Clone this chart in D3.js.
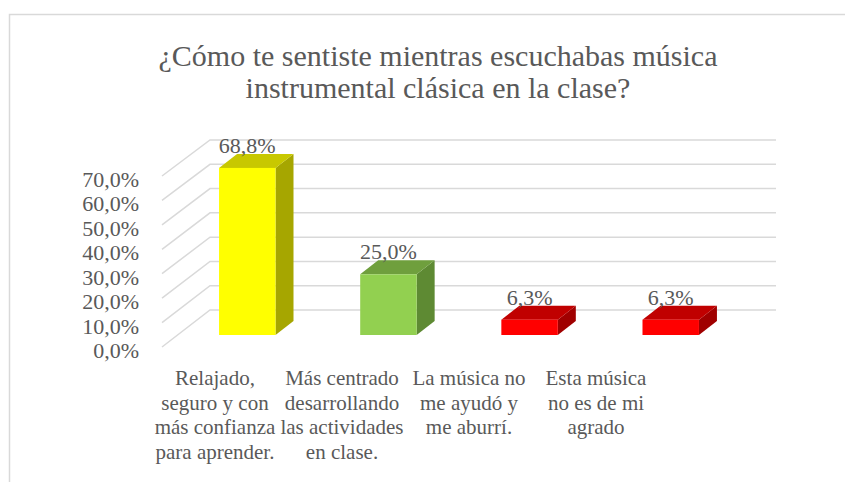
<!DOCTYPE html>
<html>
<head>
<meta charset="utf-8">
<script src="https://cdn.jsdelivr.net/npm/d3@7"></script>
<style>
  body { margin: 0; background: #fff; }
</style>
</head>
<body>
<svg id="chart" width="845" height="482"></svg>
<script>
// data
const categories = ["c1", "c2", "c3", "c4"]
const labelLines = [
  ["Relajado,", "seguro y con", "más confianza", "para aprender."],
  ["Más centrado", "desarrollando", "las actividades", "en clase."],
  ["La música no", "me ayudó y", "me aburrí."],
  ["Esta música", "no es de mi", "agrado"]
]
const values = [68.8, 25.0, 6.3, 6.3]
const valueLabels = ["68,8%", "25,0%", "6,3%", "6,3%"]
const ticks = [0, 10, 20, 30, 40, 50, 60, 70]
const titleLines = ["¿Cómo te sentiste mientras escuchabas música", "instrumental clásica en la clase?"]

// colours per bar: front, top, side
const faceColors = [
  ["#FFFF00", "#C8C800", "#A6A600"],
  ["#92D050", "#6F9F3D", "#5E8A33"],
  ["#FF0000", "#C00000", "#A00000"],
  ["#FF0000", "#C00000", "#A00000"]
]

const FONT = "Liberation Serif"
const TEXT_COLOR = "#595959"

const svg = d3.select("#chart")

// chart border (runs off right / bottom)
svg.append("path")
  .attr("d", "M9.5,482 L9.5,14.5 L845,14.5")
  .attr("fill", "none")
  .attr("stroke", "#D9D9D9")
  .attr("stroke-width", 1.5)

// title
svg.append("g").selectAll("text")
  .data(titleLines)
  .enter()
  .append("text")
  .attr("x", 438)
  .attr("y", (d, i) => 66 + i * 32)
  .attr("text-anchor", "middle")
  .attr("font-family", FONT)
  .attr("font-size", 30)
  .attr("fill", TEXT_COLOR)
  .text(d => d)

// scales
const yBack = d3.scaleLinear().domain([0, 70]).range([310, 140])   // back wall
const yFront = d3.scaleLinear().domain([0, 70]).range([347, 176])  // front edge of side wall
const yBar = d3.scaleLinear().domain([0, 70]).range([335, 165])    // bar front faces
const x = d3.scaleBand().domain(categories).range([176.7, 741.3]).paddingInner(0.6).paddingOuter(0.3)
const xLabel = d3.scalePoint().domain(categories).range([215, 596])

const depthX = 18, depthY = -14
const wallLeft = 162, wallBack = 210, wallRight = 776

// gridlines: slanted on side wall + horizontal on back wall
const grid = svg.append("g")
  .attr("fill", "none")
  .attr("stroke", "#D9D9D9")
  .attr("stroke-width", 1.5)

grid.selectAll("path")
  .data(ticks)
  .enter()
  .append("path")
  .attr("d", t => `M${wallLeft},${yFront(t)} L${wallBack},${yBack(t)} L${wallRight},${yBack(t)}`)

// y tick labels
svg.append("g").selectAll("text")
  .data(ticks)
  .enter()
  .append("text")
  .attr("x", 139)
  .attr("y", t => yFront(t) + 11)
  .attr("text-anchor", "end")
  .attr("font-family", FONT)
  .attr("font-size", 22)
  .attr("fill", TEXT_COLOR)
  .text(t => d3.format(".1f")(t).replace(".", ",") + "%")

// bars
const bars = svg.append("g").selectAll("g")
  .data(values)
  .enter()
  .append("g")

bars.each(function (v, i) {
  const g = d3.select(this)
  const x0 = x(categories[i]), x1 = x0 + x.bandwidth()
  const y0 = yBar(0), y1 = yBar(v)
  const c = faceColors[i]
  // side face
  g.append("path")
    .attr("d", `M${x1},${y1} L${x1 + depthX},${y1 + depthY} L${x1 + depthX},${y0 + depthY} L${x1},${y0} Z`)
    .attr("fill", c[2])
  // top face
  g.append("path")
    .attr("d", `M${x0},${y1} L${x0 + depthX},${y1 + depthY} L${x1 + depthX},${y1 + depthY} L${x1},${y1} Z`)
    .attr("fill", c[1])
  // front face
  g.append("rect")
    .attr("x", x0)
    .attr("y", y1)
    .attr("width", x.bandwidth())
    .attr("height", y0 - y1)
    .attr("fill", c[0])
})

// value labels
svg.append("g").selectAll("text")
  .data(values)
  .enter()
  .append("text")
  .attr("x", (d, i) => x(categories[i]) + x.bandwidth() / 2)
  .attr("y", d => yBar(d) + depthY - 1)
  .attr("text-anchor", "middle")
  .attr("font-family", FONT)
  .attr("font-size", 22)
  .attr("fill", TEXT_COLOR)
  .text((d, i) => valueLabels[i])

// category labels
const catG = svg.append("g").selectAll("text")
  .data(categories)
  .enter()
  .append("text")
  .attr("text-anchor", "middle")
  .attr("font-family", FONT)
  .attr("font-size", 21)
  .attr("fill", TEXT_COLOR)

catG.selectAll("tspan")
  .data((d, i) => labelLines[i].map(l => ({ cat: d, line: l })))
  .enter()
  .append("tspan")
  .attr("x", d => xLabel(d.cat))
  .attr("y", (d, j) => 385 + j * 24.7)
  .text(d => d.line)
</script>
</body>
</html>
